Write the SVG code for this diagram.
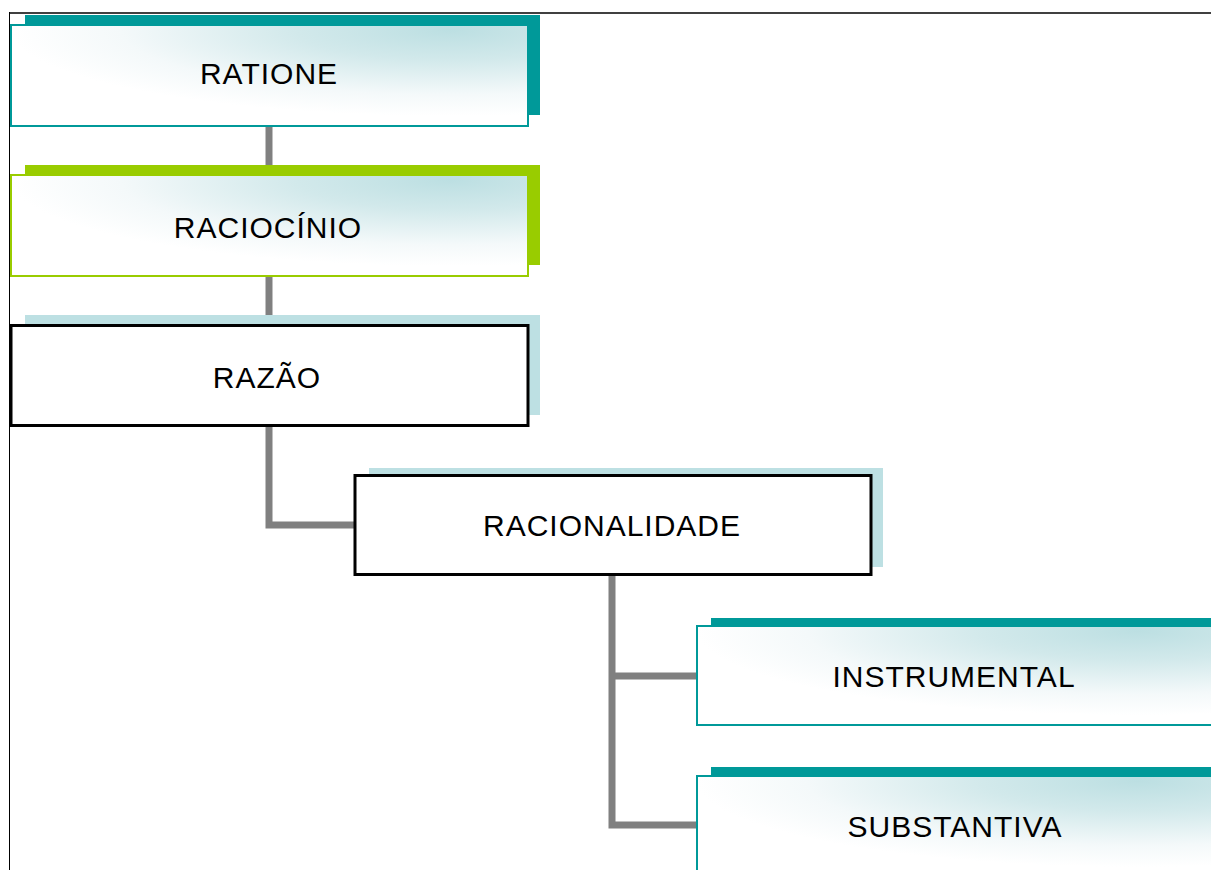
<svg xmlns="http://www.w3.org/2000/svg" width="1211" height="870" viewBox="0 0 1211 870">
<defs>
<radialGradient id="g" cx="0.85" cy="0.05" r="0.85" fx="0.85" fy="0.05">
<stop offset="0" stop-color="#BCDFE2"/>
<stop offset="0.35" stop-color="#D2E9EB"/>
<stop offset="0.75" stop-color="#F4F9FA"/>
<stop offset="1" stop-color="#FFFFFF"/>
</radialGradient>
</defs>
<style>
.lbl{font-family:"Liberation Sans",Arial,sans-serif;font-size:30px;fill:#000;text-anchor:middle;letter-spacing:1px}
.conn{stroke:#808080;stroke-width:7;fill:none}
.teal{fill:#009999}
.green{fill:#99CC00}
.pale{fill:#BDE0E3}
.gt{fill:url(#g);stroke:#009999;stroke-width:2}
.gg{fill:url(#g);stroke:#99CC00;stroke-width:2}
.wb{fill:#FFFFFF;stroke:#000;stroke-width:3}
</style>
<rect width="1211" height="870" fill="#FFFFFF"/>
<line x1="9" y1="13" x2="1211" y2="13" stroke="#000" stroke-width="1.5"/>
<line x1="9.5" y1="12" x2="9.5" y2="870" stroke="#000" stroke-width="1"/>
<g id="connectors">
<line class="conn" x1="269" y1="126" x2="269" y2="176"/>
<line class="conn" x1="269" y1="276" x2="269" y2="326"/>
<polyline class="conn" points="269,426 269,525 355,525"/>
<polyline class="conn" points="612,575 612,825 698,825"/>
<line class="conn" x1="612" y1="676" x2="698" y2="676"/>
</g>
<g id="n-ratione">
<rect class="teal" x="25" y="15" width="515" height="100"/>
<rect class="gt" x="11" y="25" width="517" height="101"/>
<text class="lbl" x="269" y="84">RATIONE</text>
</g>
<g id="n-raciocinio">
<rect class="green" x="25" y="165" width="515" height="100"/>
<rect class="gg" x="11" y="175" width="517" height="101"/>
<text class="lbl" x="268" y="238">RACIOCÍNIO</text>
</g>
<g id="n-razao">
<rect class="pale" x="25" y="315" width="515" height="100"/>
<rect class="wb" x="11" y="325.5" width="517" height="100"/>
<text class="lbl" x="267" y="388">RAZÃO</text>
</g>
<g id="n-racionalidade">
<rect class="pale" x="369" y="468" width="514" height="99"/>
<rect class="wb" x="355" y="475.5" width="516" height="99"/>
<text class="lbl" x="612" y="536">RACIONALIDADE</text>
</g>
<g id="n-instrumental">
<rect class="teal" x="711" y="618" width="514" height="100"/>
<rect class="gt" x="697" y="626" width="518" height="99"/>
<text class="lbl" x="954" y="687">INSTRUMENTAL</text>
</g>
<g id="n-substantiva">
<rect class="teal" x="711" y="767" width="514" height="100"/>
<rect class="gt" x="697" y="776" width="518" height="101"/>
<text class="lbl" x="955" y="837">SUBSTANTIVA</text>
</g>
</svg>
